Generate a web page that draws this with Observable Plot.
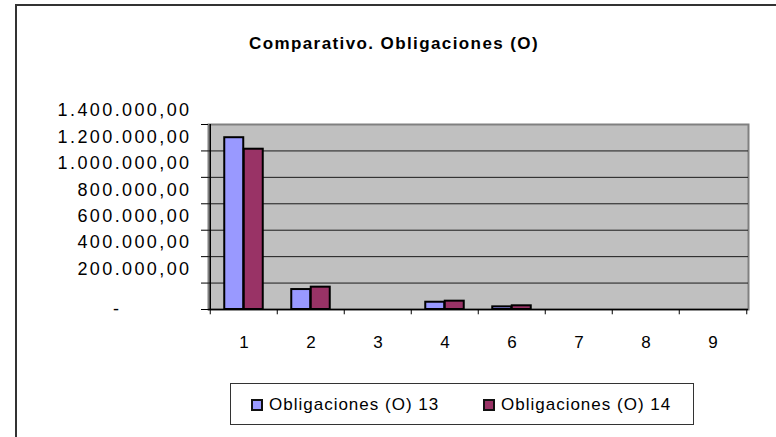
<!DOCTYPE html>
<html><head><meta charset="utf-8">
<script src="https://cdn.jsdelivr.net/npm/d3@7"></script>
<script src="https://cdn.jsdelivr.net/npm/@observablehq/plot@0.6"></script>
<style>
html,body{margin:0;padding:0;}
body{width:776px;height:437px;overflow:hidden;background:#fff;font-family:"Liberation Sans",Arial,sans-serif;position:relative;}
#frame{position:absolute;left:15px;top:4px;width:800px;height:500px;border-top:2px solid #333;border-left:2px solid #333;}
#title{position:absolute;left:16px;width:756px;top:34px;text-align:center;font-weight:bold;font-size:17px;letter-spacing:1.4px;color:#000;}
#chart{position:absolute;left:0;top:0;}
#legend{position:absolute;left:230px;top:383px;width:464px;height:42px;border:1px solid #333;box-sizing:border-box;background:#fff;}
.item{position:absolute;top:11px;display:flex;align-items:center;font-size:17px;letter-spacing:1px;color:#000;}
.sw{width:8px;height:8px;border:2px solid #111;margin-right:6px;}
[aria-label="y-axis tick label"] text{letter-spacing:2.4px;}
</style></head>
<body>
<div id="frame"></div>
<div id="title">Comparativo. Obligaciones (O)</div>
<div id="chart"></div>
<div id="legend"></div>
<script>
const categories = ["1","2","3","4","6","7","8","9"];
const seriesNames = ["Obligaciones (O) 13","Obligaciones (O) 14"];
const values13 = [1300000,151000,0,55000,20000,0,0,0];
const values14 = [1213000,169000,0,63000,28000,0,0,0];
const colors = ["#9999FF","#993366"];
const yTicks = [0,200000,400000,600000,800000,1000000,1200000,1400000];
const yTickLabels = ["-","200.000,00","400.000,00","600.000,00","800.000,00","1.000.000,00","1.200.000,00","1.400.000,00"];

const rows13 = categories.map((c,i)=>({cat:c, value:values13[i]}));
const rows14 = categories.map((c,i)=>({cat:c, value:values14[i]}));

const W = 776, H = 360, mL = 208, mR = 28, mT = 124, mB = 51;
const step = (W - mL - mR) / categories.length;
const half = step / 2;
const barW = 19.5;
const lbl = d => yTickLabels[yTicks.indexOf(d)];

const chart = Plot.plot({
  width: W, height: H,
  marginLeft: mL, marginRight: mR, marginTop: mT, marginBottom: mB,
  style: {fontFamily: '"Liberation Sans", Arial, sans-serif', fontSize: "17px", color: "#000", background: "transparent", overflow: "visible"},
  x: {domain: categories, padding: 0, axis: null, label: null},
  y: {domain: [0, 1400000], axis: null, label: null},
  marks: [
    Plot.frame({fill: "#C0C0C0", stroke: "#808080", strokeWidth: 2}),
    Plot.ruleY(yTicks.slice(1, -1), {stroke: "#1a1a1a", strokeWidth: 1}),
    Plot.barY(rows13.filter(d => d.value > 0), {x: "cat", y: "value", fill: colors[0], stroke: "#000", strokeWidth: 2, insetLeft: half - barW, insetRight: half}),
    Plot.barY(rows14.filter(d => d.value > 0), {x: "cat", y: "value", fill: colors[1], stroke: "#000", strokeWidth: 2, insetLeft: half, insetRight: half - barW}),
    Plot.ruleY([0], {stroke: "#000", strokeWidth: 1.5}),
    Plot.ruleX([categories[0]], {dx: -half, stroke: "#000", strokeWidth: 1.5}),
    Plot.ruleX(categories, {dx: -half, y1: 0, y2: -40000, stroke: "#000", strokeWidth: 1}),
    Plot.ruleX([categories[categories.length - 1]], {dx: half, y1: 0, y2: -40000, stroke: "#000", strokeWidth: 1}),
    Plot.axisY(yTicks, {tickSize: 7, tickFormat: () => "", stroke: "#000", label: null}),
    Plot.axisY(yTicks.slice(1), {tickSize: 0, tickPadding: 17, tickFormat: lbl, dy: -14, fontSize: 18, fill: "#000", label: null}),
    Plot.axisY([0], {tickSize: 0, tickPadding: 87, tickFormat: lbl, fontSize: 18, fill: "#000", label: null}),
    Plot.axisX(categories, {tickSize: 0, tickPadding: 26, fontSize: 17, fill: "#000", label: null})
  ]
});
document.getElementById("chart").appendChild(chart);

const legend = document.getElementById("legend");
const lefts = [20, 252];
seriesNames.forEach((s, i) => {
  const it = document.createElement("div");
  it.className = "item";
  it.style.left = lefts[i] + "px";
  const sw = document.createElement("div");
  sw.className = "sw";
  sw.style.background = colors[i];
  const tx = document.createElement("span");
  tx.textContent = s;
  it.appendChild(sw); it.appendChild(tx);
  legend.appendChild(it);
});
</script>
</body></html>
